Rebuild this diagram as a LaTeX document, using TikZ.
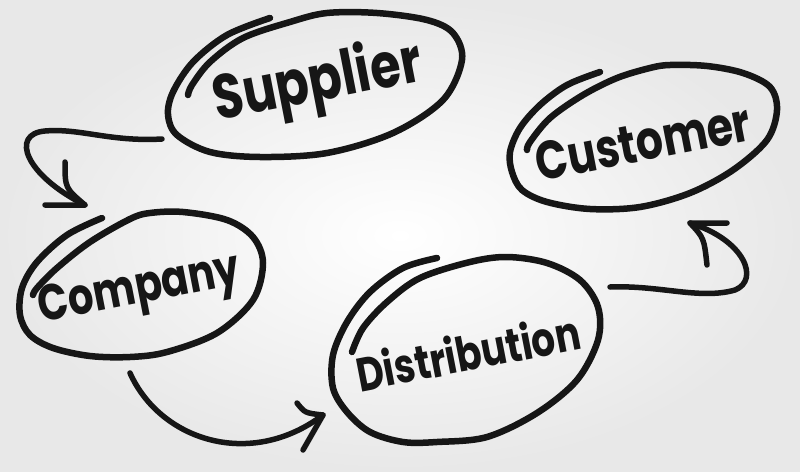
\documentclass[tikz,border=0pt]{standalone}
\usepackage{graphicx}
\usepackage{fontspec}
\newfontfamily\hand{Poppins}
\newcommand\handtext[1]{\scalebox{0.85}[1.08]{#1}}
\definecolor{ink}{HTML}{161616}
\tikzset{
  loopline/.style={draw=ink, line width=6.5pt, line cap=round, line join=round},
  arrline/.style={draw=ink, line width=5.5pt, line cap=round, line join=round},
  word/.style={text=ink, inner sep=0pt},
}
\begin{document}
\begin{tikzpicture}[x=1pt,y=-1pt]
\useasboundingbox (0,0) rectangle (800,471);
\shade[inner color=white, outer color=black!9] (0,0) rectangle (800,471);

% words
\node[word, rotate=11, font=\hand\bfseries\fontsize{58}{58}\selectfont] (sup) at (318,84) {\handtext{Supplier}};
\node[word, rotate=11, font=\hand\bfseries\fontsize{50}{50}\selectfont] (cus) at (643,142) {\handtext{Customer}};
\node[word, rotate=11, font=\hand\bfseries\fontsize{47}{47}\selectfont] (com) at (140,292) {\handtext{Company}};
\node[word, rotate=11, font=\hand\bfseries\fontsize{44}{44}\selectfont] (dis) at (468,352) {\handtext{Distribution}};

% hand drawn loops
\draw[loopline] plot[smooth, tension=0.55] coordinates {
 (270,18) (227,35) (193,62) (173,92) (168,115) (177,135) (210,152) (260,157)
 (327,153) (393,133) (443,100) (462,60) (453,33) (427,20) (377,13) (327,13)
 (290,22) (243,38) (210,62) (192,85) (188,95)};
\draw[loopline] plot[smooth, tension=0.55] coordinates {
 (600,72) (567,85) (540,105) (520,128) (510,152) (512,172) (522,190) (547,202)
 (590,209) (640,207) (690,193) (733,170) (767,140) (777,110) (770,87) (743,73)
 (707,66) (670,65) (650,68) (617,78) (583,95) (550,118) (530,142) (527,150)};
\draw[loopline] plot[smooth, tension=0.55] coordinates {
 (102,218) (67,235) (37,262) (22,288) (20,315) (30,335) (53,348) (90,356)
 (130,357) (167,352) (217,333) (253,300) (263,263) (253,237) (227,220) (183,212)
 (150,213) (130,219) (90,242) (57,268) (37,288) (33,295)};
\draw[loopline] plot[smooth, tension=0.55] coordinates {
 (437,258) (403,268) (370,292) (347,322) (333,355) (333,388) (347,412) (370,432)
 (403,442) (437,442) (487,437) (537,413) (577,380) (598,340) (598,307) (580,280)
 (547,263) (507,257) (470,262) (420,278) (387,302) (363,328) (352,352)};

% arrow ends
\coordinate (a1s) at (162,139);
\coordinate (a1t) at (85,205);
\coordinate (a1b) at (65,162);
\coordinate (a1c) at (45,205);
\coordinate (a2s) at (130,373);
\coordinate (a2t) at (323,415);
\coordinate (a2b) at (297,403);
\coordinate (a2c) at (303,450);
\coordinate (a3s) at (610,287);
\coordinate (a3t) at (690,223);
\coordinate (a3b) at (727,223);
\coordinate (a3c) at (707,265);

% Supplier -> Company
\draw[arrline] (a1s) .. controls (110,142) and (80,128) .. (45,131)
  .. controls (10,134) and (25,175) .. (a1t);
\draw[arrline] (a1b) .. controls (65,188) .. (a1t) -- (a1c);
% Company -> Distribution
\draw[arrline] (a2s) .. controls (160,440) and (250,470) .. (a2t);
\draw[arrline] (a2b) .. controls (305,413) .. (a2t) -- (a2c);
% Distribution -> Customer
\draw[arrline] (a3s) .. controls (660,285) and (700,300) .. (735,290)
  .. controls (760,280) and (745,240) .. (a3t);
\draw[arrline] (a3c) .. controls (704,238) .. (a3t) -- (a3b);
\end{tikzpicture}
\end{document}
